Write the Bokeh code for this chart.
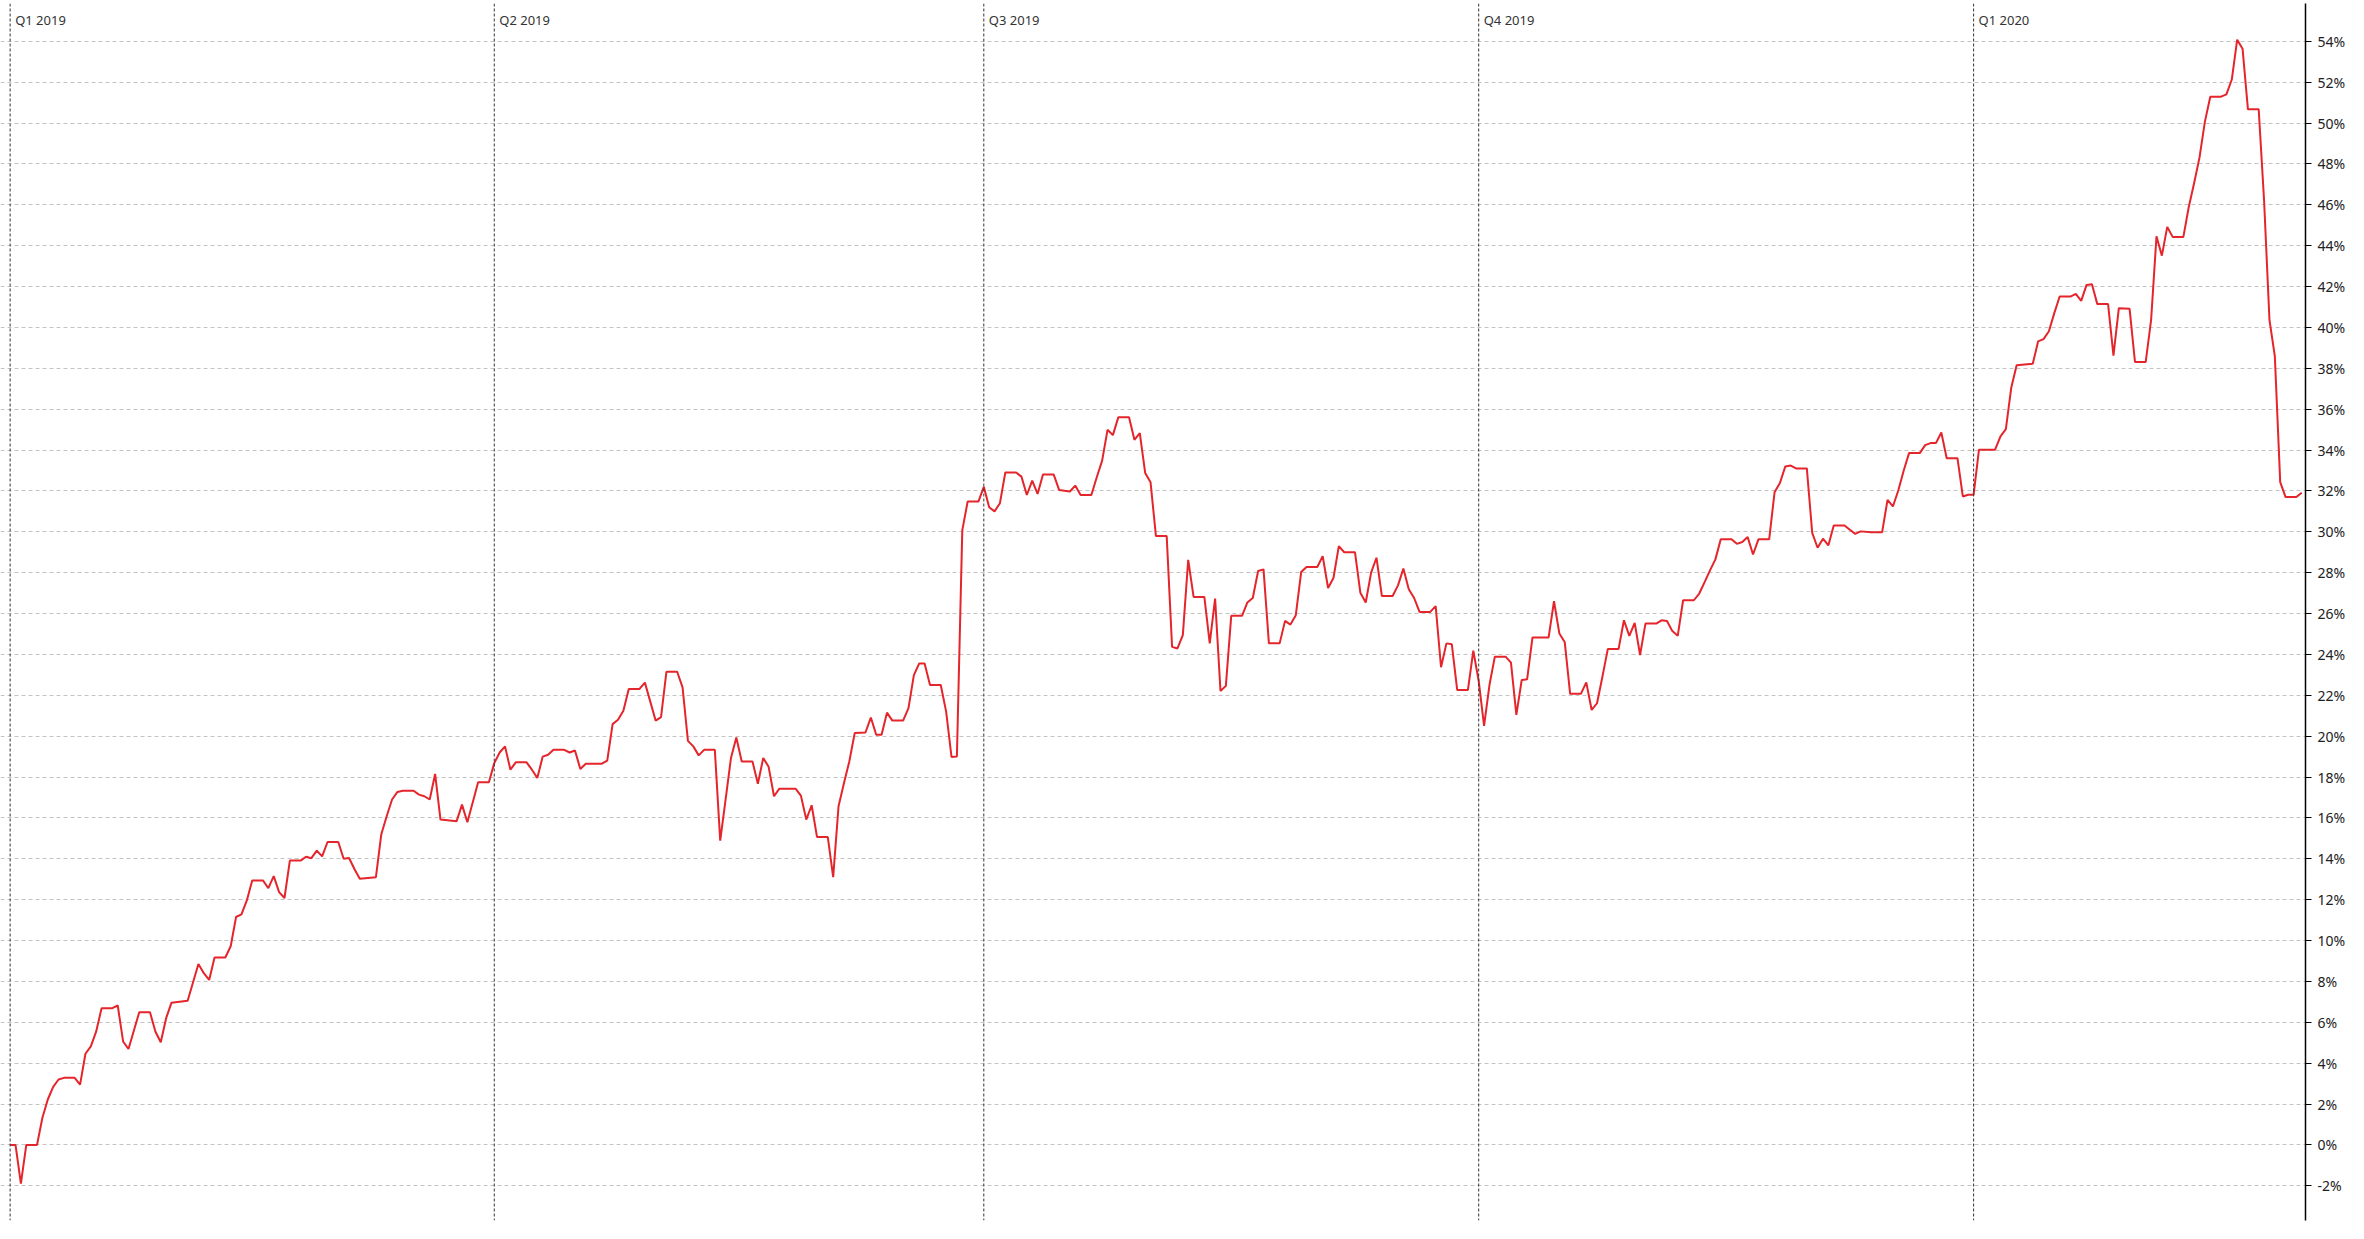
import pandas as pd
from bokeh.plotting import figure
from bokeh.models import Range1d, Span, FixedTicker, PrintfTickFormatter, ColumnDataSource
from bokeh.core.properties import value
from bokeh.embed import file_html
from bokeh.resources import INLINE

# ---- data ----
start_date = "2019-01-01"
day_offsets = [0, 1, 2, 3, 5, 6, 7, 8, 9, 10, 12, 13, 14, 15, 16, 17, 19, 20, 21, 22, 24, 26, 27, 28, 29, 30, 33,
               35, 36, 37, 38, 40, 41, 42, 43, 44, 45, 47, 48, 49, 50, 51, 52, 54, 55, 56, 57, 58, 59, 61, 62, 63,
               64, 65, 68, 69, 70, 71, 72, 73, 75, 76, 77, 78, 79, 80, 83, 84, 85, 87, 89, 90, 91, 92, 93, 94, 96,
               97, 98, 99, 100, 101, 103, 104, 105, 106, 107, 110, 111, 112, 113, 114, 115, 117, 118, 119, 120,
               121, 122, 124, 125, 126, 127, 128, 129, 131, 132, 133, 134, 135, 136, 138, 139, 140, 141, 142, 143,
               146, 147, 148, 149, 150, 152, 153, 154, 155, 156, 157, 159, 160, 161, 162, 163, 164, 166, 167, 168,
               169, 170, 171, 173, 174, 175, 176, 177, 178, 180, 181, 182, 183, 184, 185, 187, 188, 189, 190, 191,
               192, 194, 195, 197, 198, 199, 201, 202, 203, 204, 205, 206, 208, 209, 210, 211, 212, 213, 215, 216,
               217, 218, 219, 220, 222, 223, 224, 225, 226, 227, 229, 230, 231, 232, 233, 234, 236, 237, 238, 239,
               240, 241, 243, 244, 245, 246, 247, 248, 250, 251, 252, 253, 254, 255, 257, 258, 259, 260, 261, 262,
               264, 265, 266, 267, 268, 269, 271, 272, 273, 274, 275, 276, 278, 279, 280, 281, 282, 283, 286, 287,
               288, 289, 290, 292, 293, 294, 295, 296, 297, 299, 300, 301, 302, 303, 304, 306, 307, 308, 309, 310,
               311, 313, 314, 315, 316, 317, 318, 320, 321, 322, 323, 324, 325, 327, 328, 329, 330, 331, 332, 334,
               335, 336, 337, 338, 339, 341, 342, 343, 344, 346, 348, 349, 350, 351, 352, 353, 355, 356, 357, 358,
               359, 360, 362, 363, 364, 365, 366, 369, 370, 371, 372, 373, 376, 377, 378, 379, 380, 381, 383, 384,
               385, 386, 387, 388, 390, 391, 392, 394, 395, 397, 398, 399, 400, 401, 402, 404, 405, 406, 407, 408,
               409, 411, 412, 413, 414, 415, 416, 418, 419, 420, 421, 422, 423, 425, 426]
returns_pct = [0, 0, -1.9, 0, 0, 1.33, 2.22, 2.84, 3.2, 3.28, 3.28, 2.95, 4.46, 4.82, 5.55, 6.69, 6.69, 6.82, 5.06,
               4.69, 6.49, 6.49, 5.55, 5.02, 6.2, 6.96, 7.05, 8.85, 8.4, 8.07, 9.17, 9.17, 9.72, 11.15, 11.28, 11.96,
               12.94, 12.94, 12.56, 13.15, 12.37, 12.08, 13.91, 13.91, 14.1, 14.03, 14.4, 14.12, 14.82, 14.82, 14.0,
               14.04, 13.5, 13.02, 13.1, 15.2, 16.08, 16.9, 17.27, 17.33, 17.33, 17.14, 17.06, 16.9, 18.15, 15.92,
               15.84, 16.65, 15.79, 17.74, 17.74, 18.68, 19.2, 19.5, 18.36, 18.72, 18.72, 18.36, 17.95, 19.0, 19.09,
               19.33, 19.33, 19.2, 19.3, 18.39, 18.65, 18.65, 18.8, 20.59, 20.8, 21.24, 22.31, 22.31, 22.62, 21.69,
               20.76, 20.93, 23.15, 23.15, 22.39, 19.77, 19.5, 19.06, 19.33, 19.33, 14.89, 16.9, 18.93, 19.93,
               18.76, 18.76, 17.67, 18.93, 18.5, 17.06, 17.43, 17.43, 17.09, 15.92, 16.62, 15.06, 15.06, 13.1,
               16.57, 17.7, 18.76, 20.15, 20.18, 20.91, 20.07, 20.07, 21.15, 20.76, 20.76, 21.37, 22.99, 23.56,
               23.56, 22.5, 22.5, 21.2, 18.98, 19.0, 30.07, 31.48, 31.48, 32.2, 31.2, 31.0, 31.4, 32.9, 32.9, 32.7,
               31.8, 32.5, 31.85, 32.8, 32.8, 32.05, 31.97, 32.26, 31.8, 31.8, 32.67, 33.48, 34.99, 34.73, 35.6,
               35.6, 34.5, 34.83, 32.88, 32.42, 29.79, 29.79, 24.37, 24.29, 24.94, 28.63, 26.81, 26.81, 24.54,
               26.73, 22.21, 22.46, 25.89, 25.89, 26.54, 26.76, 28.08, 28.16, 24.54, 24.54, 25.64, 25.46, 25.92,
               28.03, 28.28, 28.28, 28.81, 27.25, 27.74, 29.3, 29.0, 29.0, 27.02, 26.54, 28.0, 28.73, 26.86, 26.86,
               27.38, 28.2, 27.19, 26.76, 26.08, 26.08, 26.36, 23.37, 24.54, 24.5, 22.26, 22.26, 24.18, 22.7, 20.5,
               22.5, 23.89, 23.89, 23.6, 21.04, 22.75, 22.78, 24.83, 24.83, 26.6, 25.02, 24.59, 22.07, 22.07, 22.63,
               21.28, 21.61, 22.91, 24.26, 24.26, 25.67, 24.91, 25.54, 23.97, 25.51, 25.51, 25.67, 25.63, 25.14,
               24.91, 26.65, 26.65, 26.98, 27.54, 28.11, 28.65, 29.63, 29.63, 29.41, 29.5, 29.74, 28.89, 29.63,
               29.63, 31.93, 32.39, 33.2, 33.24, 33.1, 33.1, 29.95, 29.22, 29.66, 29.33, 30.31, 30.31, 30.1, 29.9,
               30.02, 29.98, 29.98, 31.56, 31.24, 32.02, 32.99, 33.85, 33.85, 34.24, 34.34, 34.34, 34.86, 33.6,
               33.6, 31.73, 31.81, 31.81, 34.02, 34.02, 34.67, 35.02, 37.05, 38.15, 38.22, 39.32, 39.43, 39.81,
               40.7, 41.51, 41.51, 41.64, 41.3, 42.08, 42.11, 41.14, 41.14, 38.62, 40.94, 40.91, 38.31, 38.31,
               40.37, 44.46, 43.51, 44.92, 44.43, 44.43, 45.89, 47.07, 48.32, 50.07, 51.29, 51.29, 51.4, 52.13,
               54.08, 53.64, 50.67, 50.67, 46.21, 40.37, 38.59, 32.43, 31.7, 31.7, 31.91]
quarter_dates = ["2019-01-01", "2019-04-01", "2019-07-01", "2019-10-01", "2020-01-01"]
quarter_labels = ["Q1 2019", "Q2 2019", "Q3 2019", "Q4 2019", "Q1 2020"]
y_ticks = list(range(-2, 57, 2))

# ---- build ----
base = pd.Timestamp(start_date)
dates = [base + pd.Timedelta(days=d) for d in day_offsets]
src = ColumnDataSource(dict(x=dates, y=returns_pct))

x_start = base - pd.Timedelta(hours=43)
x_end = base + pd.Timedelta(days=426.7)

p = figure(width=2348, height=1223, x_axis_type="datetime", y_axis_location="right",
           output_backend="svg", toolbar_location=None,
           x_range=Range1d(x_start, x_end), y_range=Range1d(-3.7, 55.85),
           min_border_left=0, min_border_top=3, min_border_bottom=3, min_border_right=0)
p.outline_line_color = None
p.background_fill_color = "white"
p.border_fill_color = "white"

p.xaxis.visible = False
p.xgrid.grid_line_color = None
p.ygrid.grid_line_color = "#c4c4c4"
p.ygrid.grid_line_dash = "4 3"
p.ygrid.grid_line_width = 1

yax = p.yaxis[0]
yax.ticker = FixedTicker(ticks=y_ticks)
yax.formatter = PrintfTickFormatter(format="%d%%")
yax.axis_line_color = "#000000"
yax.axis_line_width = 1.5
yax.major_tick_line_color = "#000000"
yax.major_tick_out = 6
yax.major_tick_in = 0
yax.minor_tick_line_color = None
yax.major_label_text_font = "Noto Sans"
yax.major_label_text_font_size = "14px"
yax.major_label_text_color = "#222222"
yax.major_label_standoff = 6

for qd in quarter_dates:
    p.add_layout(Span(location=pd.Timestamp(qd), dimension="height", line_color="#333333",
                      line_dash="3 2", line_width=1))

lsrc = ColumnDataSource(dict(x=[pd.Timestamp(q) for q in quarter_dates],
                             y=[55.5] * len(quarter_dates), t=quarter_labels))
p.text(x="x", y="y", text="t", source=lsrc, x_offset=5, text_baseline="top", text_align="left",
       text_font=value("Noto Sans"), text_font_size="13px", text_color="#333333")

p.line(x="x", y="y", source=src, line_color="#e4252b", line_width=2)

open("out.html", "w").write(file_html(p, INLINE))
